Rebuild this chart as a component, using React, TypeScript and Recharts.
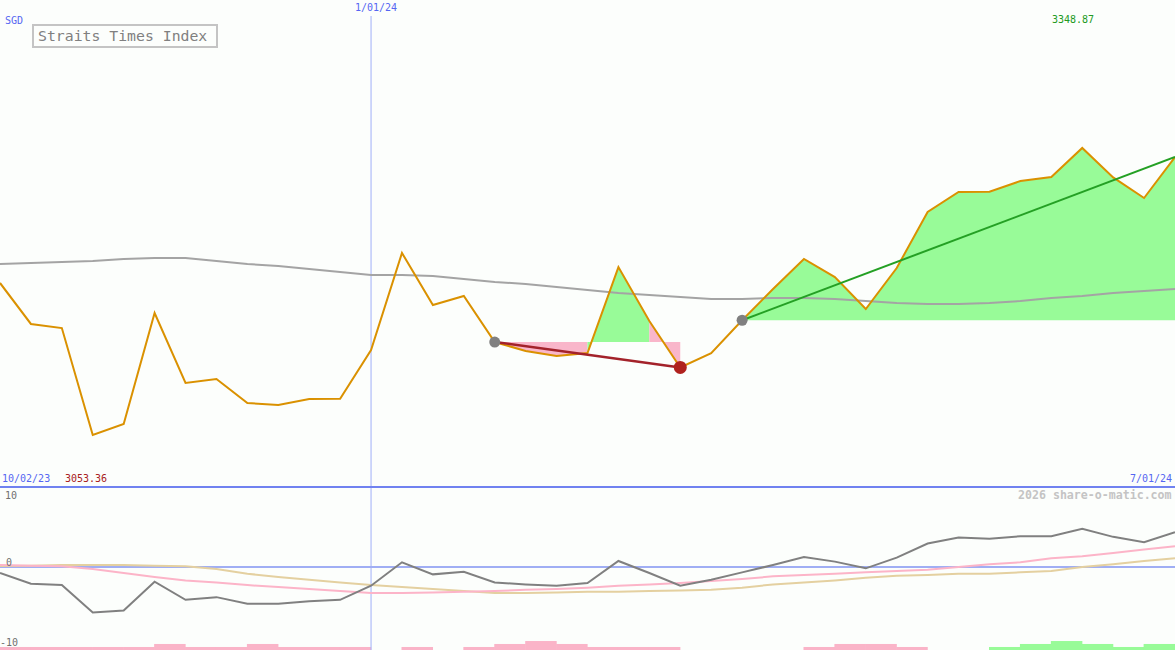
import React from "react"
import {
  ComposedChart,
  Line,
  Area,
  Bar,
  Cell,
  XAxis,
  YAxis,
  ReferenceLine,
} from "recharts"

// weekly closes, 10/02/23 .. 7/01/24
const closes = [
  3209.9, 3167.7, 3163.5, 3053.36, 3064.7, 3179.0, 3106.9, 3111.0, 3086.3, 3084.3,
  3090.4, 3090.6, 3140.9, 3240.8, 3187.2, 3196.5, 3149.1, 3139.9, 3134.7, 3137.8,
  3226.3, 3170.7, 3122.9, 3137.5, 3171.5, 3203.7, 3234.6, 3216.0, 3183.1, 3225.3,
  3283.0, 3303.6, 3303.9, 3314.9, 3319.0, 3348.87, 3318.6, 3297.4, 3339.6,
]

// long moving average (grey)
const movingAvg = [
  3229.4, 3230.5, 3231.5, 3232.5, 3234.6, 3235.6, 3235.6, 3232.5, 3229.4, 3227.4,
  3224.3, 3221.2, 3218.1, 3218.1, 3217.1, 3214.0, 3210.9, 3208.8, 3205.8, 3202.7,
  3199.6, 3197.5, 3195.5, 3193.4, 3193.4, 3194.4, 3194.4, 3193.4, 3191.3, 3189.3,
  3188.2, 3188.2, 3189.3, 3191.3, 3194.4, 3196.5, 3199.6, 3201.6, 3203.7,
]

// lower panel: momentum + two signal lines
const momentum = [
  -0.9, -2.5, -2.7, -6.8, -6.5, -2.2, -4.9, -4.5, -5.5, -5.5,
  -5.1, -4.9, -2.8, 0.7, -1.1, -0.7, -2.3, -2.6, -2.8, -2.4,
  0.9, -0.9, -2.8, -1.9, -0.8, 0.3, 1.5, 0.8, -0.2, 1.4,
  3.5, 4.4, 4.2, 4.6, 4.6, 5.7, 4.5, 3.7, 5.2,
]
const signalFast = [
  0.3, 0.2, 0.1, -0.3, -0.9, -1.5, -2.0, -2.3, -2.7, -3.0,
  -3.3, -3.6, -3.9, -3.9, -3.8, -3.7, -3.6, -3.4, -3.3, -3.1,
  -2.8, -2.6, -2.4, -2.1, -1.8, -1.4, -1.2, -1.0, -0.8, -0.6,
  -0.4, 0.0, 0.4, 0.7, 1.3, 1.6, 2.1, 2.6, 3.1,
]
const signalSlow = [
  0.15, 0.2, 0.3, 0.3, 0.3, 0.2, 0.1, -0.3, -1.0, -1.5,
  -1.9, -2.3, -2.7, -3.0, -3.3, -3.6, -3.9, -3.9, -3.8, -3.7,
  -3.7, -3.6, -3.5, -3.4, -3.1, -2.6, -2.3, -2.0, -1.6, -1.3,
  -1.2, -1.0, -1.0, -0.8, -0.6, 0.0, 0.4, 0.9, 1.3,
]
// histogram per week (bar spans week i -> i+1), sign = colour
const hist = [
  -0.45, -0.45, -0.45, -0.45, -0.45, -0.9, -0.45, -0.45, -0.9, -0.45,
  -0.45, -0.45, null, -0.45, null, -0.45, -0.9, -1.34, -0.9, -0.45,
  -0.45, -0.45, null, null, null, null, -0.45, -0.9, -0.9, -0.45,
  null, null, 0.45, 0.9, 1.34, 0.9, 0.45, 0.9, null,
]

const dipStart = 16
const dipLow = 22
const riseStart = 24
const last = closes.length - 1
const newYear = 12

const seg = (i: number, a: number, b: number) => (i >= a && i <= b ? closes[i] : null)

const rows = closes.map((c, i) => ({
  i,
  close: c,
  ma: movingAvg[i],
  pinkA: seg(i, dipStart, 19),
  greenA: seg(i, 19, 21),
  pinkB: seg(i, 21, dipLow),
  greenB: seg(i, riseStart, last),
  downTrend: i === dipStart || i === dipLow ? c : null,
  upTrend: i === riseStart || i === last ? c : null,
  mom: momentum[i],
  fast: signalFast[i],
  slow: signalSlow[i],
  histAbs: hist[i] == null ? null : Math.abs(hist[i] as number),
}))

const MONO = "'DejaVu Sans Mono', monospace"
const BLUE = "#5566f2"

function Txt({ x, y, color, size = 10, bold = false, children }: any) {
  return (
    <div
      style={{
        position: "absolute",
        left: x,
        top: y,
        color,
        fontSize: size,
        fontFamily: MONO,
        fontWeight: bold ? 700 : 400,
        lineHeight: 1,
        whiteSpace: "nowrap",
      }}
    >
      {children}
    </div>
  )
}

const pivotDot = (props: any) => {
  const { cx, cy, payload, key } = props
  if (payload.i === dipLow) return <circle key={key} cx={cx} cy={cy} r={6.5} fill="#b0221e" />
  if (payload.i === dipStart || payload.i === riseStart)
    return <circle key={key} cx={cx} cy={cy} r={5.5} fill="#808080" />
  return <g key={key} />
}

// bars run from week i to week i+1, so shift by half a band
const histShape = (props: any) => {
  const { x, y, width, height, fill } = props
  if (!height) return <g />
  return <rect x={x + width / 2} y={y} width={width + 1.5} height={height} fill={fill} />
}

export default function App() {
  return (
    <div
      style={{
        position: "absolute",
        left: 0,
        top: 0,
        width: 1175,
        height: 650,
        background: "#fcfefc",
        overflow: "hidden",
      }}
    >
      <div style={{ position: "absolute", left: 0, top: 0 }}>
        <ComposedChart
          width={1175}
          height={487}
          data={rows}
          margin={{ top: 16, right: 0, bottom: 0, left: 0 }}
        >
          <XAxis type="number" dataKey="i" domain={[0, last]} hide />
          <YAxis domain={[2999.82, 3484.78]} allowDataOverflow hide />
          <ReferenceLine x={newYear} stroke="#a0b0f8" strokeWidth={1} />
          <Area dataKey="pinkA" baseValue={closes[dipStart]} stroke="none" fill="#f9b6ca" fillOpacity={1} isAnimationActive={false} />
          <Area dataKey="greenA" baseValue={closes[dipStart]} stroke="none" fill="#98fb98" fillOpacity={1} isAnimationActive={false} />
          <Area dataKey="pinkB" baseValue={closes[dipStart]} stroke="none" fill="#f9b6ca" fillOpacity={1} isAnimationActive={false} />
          <Area dataKey="greenB" baseValue={closes[riseStart]} stroke="none" fill="#98fb98" fillOpacity={1} isAnimationActive={false} />
          <Line dataKey="ma" stroke="#a4a4a4" strokeWidth={2} dot={false} isAnimationActive={false} />
          <Line dataKey="close" stroke="#da9100" strokeWidth={2} dot={false} isAnimationActive={false} />
          <Line dataKey="downTrend" stroke="#a3222a" strokeWidth={2.5} connectNulls dot={pivotDot} isAnimationActive={false} />
          <Line dataKey="upTrend" stroke="#24a024" strokeWidth={2} connectNulls dot={pivotDot} isAnimationActive={false} />
        </ComposedChart>
      </div>

      <div style={{ position: "absolute", left: 0, top: 487 }}>
        <ComposedChart
          width={1175}
          height={163}
          data={rows}
          margin={{ top: 0, right: 0, bottom: 0, left: 0 }}
        >
          <XAxis type="number" dataKey="i" domain={[0, last]} hide />
          <YAxis yAxisId="osc" domain={[-12.39, 11.94]} allowDataOverflow hide />
          <YAxis yAxisId="h" domain={[0, 24.33]} allowDataOverflow hide />
          <ReferenceLine yAxisId="osc" x={newYear} stroke="#a0b0f8" strokeWidth={1} />
          <ReferenceLine yAxisId="osc" y={0} stroke="#a0aef4" strokeWidth={2} />
          <Bar yAxisId="h" dataKey="histAbs" barSize={30} shape={histShape} isAnimationActive={false}>
            {rows.map((r) => (
              <Cell key={r.i} fill={(hist[r.i] ?? 0) < 0 ? "#fab4c8" : "#98fb98"} />
            ))}
          </Bar>
          <Line yAxisId="osc" dataKey="slow" stroke="#e4d0a0" strokeWidth={2} dot={false} isAnimationActive={false} />
          <Line yAxisId="osc" dataKey="fast" stroke="#fcb4c8" strokeWidth={2} dot={false} isAnimationActive={false} />
          <Line yAxisId="osc" dataKey="mom" stroke="#808080" strokeWidth={2} dot={false} isAnimationActive={false} />
        </ComposedChart>
      </div>

      <div style={{ position: "absolute", left: 0, top: 486, width: 1175, height: 2, background: "#7082f0" }} />

      <Txt x={5} y={16} color={BLUE}>SGD</Txt>
      <Txt x={355} y={3} color={BLUE}>1/01/24</Txt>
      <Txt x={1052} y={15} color="#229a22">3348.87</Txt>
      <Txt x={2} y={474} color={BLUE}>10/02/23</Txt>
      <Txt x={65} y={474} color="#a82020">3053.36</Txt>
      <Txt x={1130} y={474} color={BLUE}>7/01/24</Txt>
      <Txt x={1018} y={490} color="#c4c4c4" size={11.6} bold>2026 share-o-matic.com</Txt>
      <Txt x={5} y={491} color="#707070">10</Txt>
      <Txt x={6} y={558} color="#707070">0</Txt>
      <Txt x={0} y={638} color="#707070">-10</Txt>

      <div
        style={{
          position: "absolute",
          left: 32,
          top: 24,
          width: 186,
          height: 24,
          boxSizing: "border-box",
          border: "2px solid #c4c4c4",
          paddingLeft: 4,
          fontFamily: MONO,
          fontSize: 14.8,
          lineHeight: "20px",
          color: "#808080",
          whiteSpace: "nowrap",
        }}
      >
        Straits Times Index
      </div>
    </div>
  )
}
